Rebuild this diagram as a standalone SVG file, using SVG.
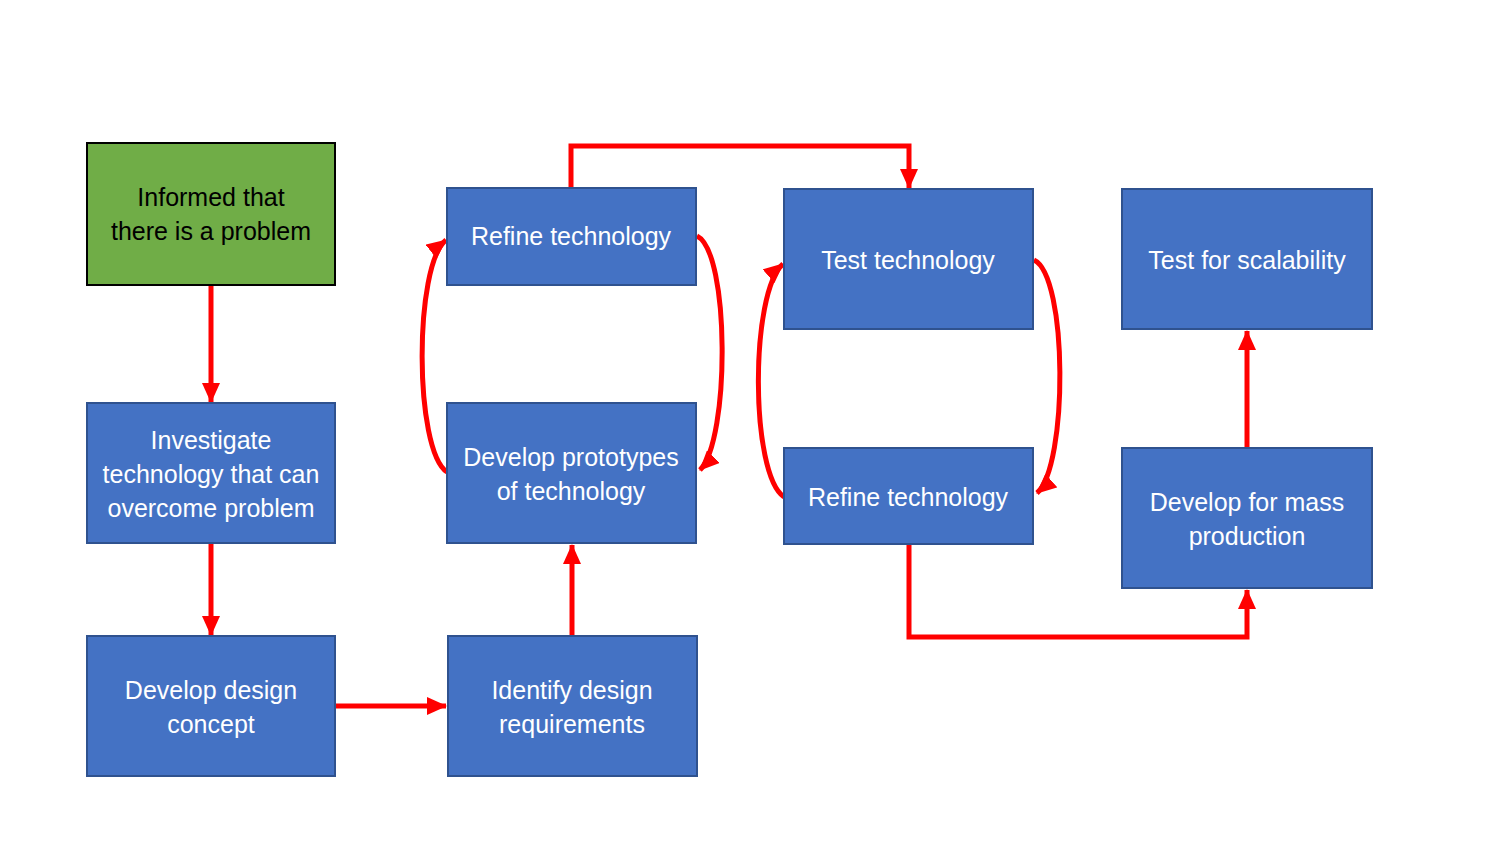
<svg xmlns="http://www.w3.org/2000/svg" width="1500" height="844" viewBox="0 0 1500 844">
<style>
.box{fill:#4472C4;stroke:#2F528F;stroke-width:2}
.green{fill:#70AD47;stroke:#000;stroke-width:2}
.t{font-family:"Liberation Sans",Arial,sans-serif;font-size:25px;fill:#fff;text-anchor:middle}
.tb{fill:#000}
.c{fill:none;stroke:#FF0000;stroke-width:5;marker-end:url(#ah)}
</style>
<defs>
<marker id="ah" markerUnits="userSpaceOnUse" markerWidth="20" markerHeight="18" refX="19" refY="9" orient="auto">
<path d="M0,0 L20,9 L0,18 z" fill="#FF0000"/>
</marker>
</defs>
<rect width="1500" height="844" fill="#fff"/>
<g id="connectors">
<path class="c" d="M211,286 V402"/>
<path class="c" d="M211,544 V635"/>
<path class="c" d="M336,706 H446"/>
<path class="c" d="M572,636 V545"/>
<path class="c" d="M571,188 V146 H909 V188"/>
<path class="c" d="M697,236 C730,252 730,440 700,470"/>
<path class="c" d="M447,472 C414,450 414,265 446,240"/>
<path class="c" d="M1034,260 C1068,276 1068,466 1037,493"/>
<path class="c" d="M784,497 C750,474 750,292 783,264"/>
<path class="c" d="M909,545 V637 H1247 V590"/>
<path class="c" d="M1247,448 V331"/>
</g>
<g id="n1"><rect class="green" x="87" y="143" width="248" height="142"/>
<text class="t tb" x="211" y="206">Informed that</text><text class="t tb" x="211" y="240">there is a problem</text></g>
<g id="n2"><rect class="box" x="87" y="403" width="248" height="140"/>
<text class="t" x="211" y="449">Investigate</text><text class="t" x="211" y="483">technology that can</text><text class="t" x="211" y="517">overcome problem</text></g>
<g id="n3"><rect class="box" x="87" y="636" width="248" height="140"/>
<text class="t" x="211" y="699">Develop design</text><text class="t" x="211" y="733">concept</text></g>
<g id="n4"><rect class="box" x="448" y="636" width="249" height="140"/>
<text class="t" x="572" y="699">Identify design</text><text class="t" x="572" y="733">requirements</text></g>
<g id="n5"><rect class="box" x="447" y="403" width="249" height="140"/>
<text class="t" x="571" y="466">Develop prototypes</text><text class="t" x="571" y="500">of technology</text></g>
<g id="n6"><rect class="box" x="447" y="188" width="249" height="97"/>
<text class="t" x="571" y="245">Refine technology</text></g>
<g id="n7"><rect class="box" x="784" y="189" width="249" height="140"/>
<text class="t" x="908" y="269">Test technology</text></g>
<g id="n8"><rect class="box" x="784" y="448" width="249" height="96"/>
<text class="t" x="908" y="506">Refine technology</text></g>
<g id="n9"><rect class="box" x="1122" y="448" width="250" height="140"/>
<text class="t" x="1247" y="511">Develop for mass</text><text class="t" x="1247" y="545">production</text></g>
<g id="n10"><rect class="box" x="1122" y="189" width="250" height="140"/>
<text class="t" x="1247" y="269">Test for scalability</text></g>
</svg>
